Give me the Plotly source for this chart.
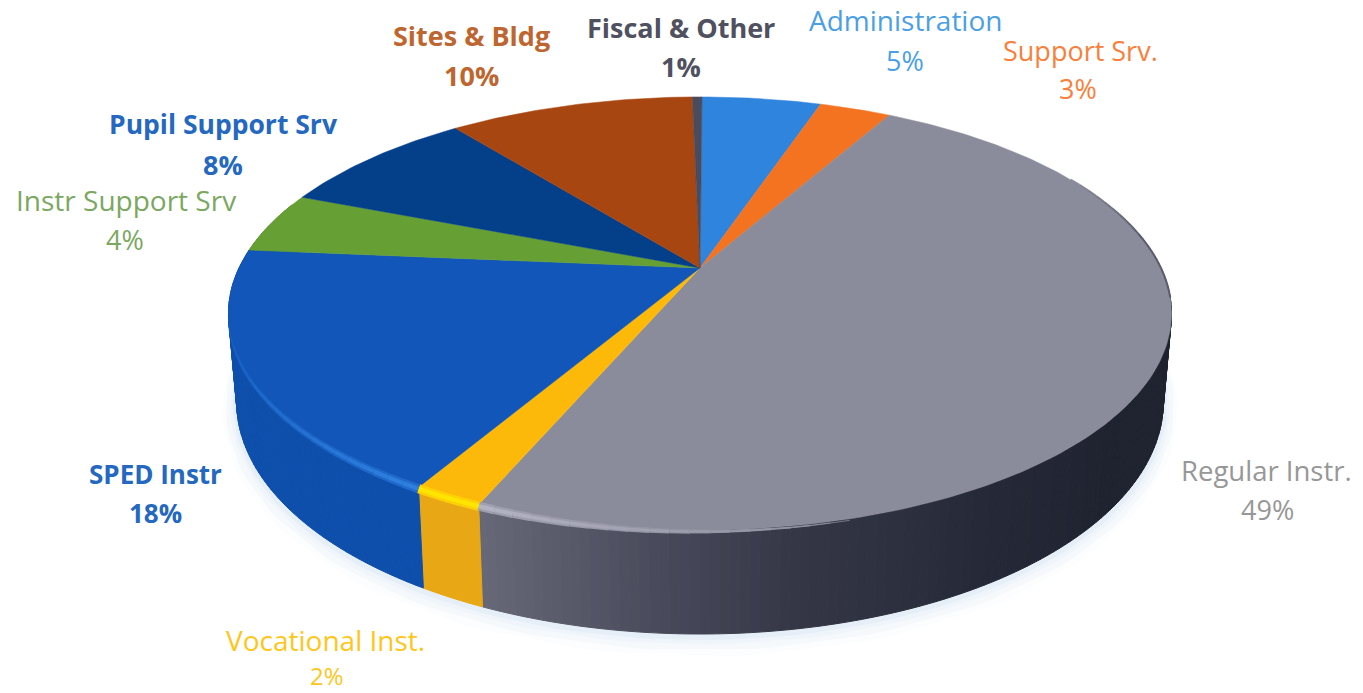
import numpy as np
import plotly.graph_objects as go

# ---- data (clockwise from 12 o'clock) ----
categories = ["Administration", "Support Srv.", "Regular Instr.", "Vocational Inst.",
              "SPED Instr", "Instr Support Srv", "Pupil Support Srv", "Sites & Bldg", "Fiscal & Other"]
shares = [5.0, 3.0, 48.3, 2.0, 18.1, 4.6, 8.4, 10.3, 0.4]
pct_labels = ["5%", "3%", "49%", "2%", "18%", "4%", "8%", "10%", "1%"]

# ---- styles ----
top_colors = ["#2f84de", "#f47320", "#8b8c9b", "#fdb90a", "#1156b8", "#66a035", "#043f8a", "#a84612", "#4a4b5c"]
wall_colors = ["#2470c0", "#d8601a", "#3a3b4a", "#e8a815", "#0e4fac", "#558a2c", "#03336f", "#8c3a0e", "#3a3b4a"]
text_colors = ["#4a9fe6", "#f8803a", "#979797", "#ffc61a", "#2468bf", "#7aa860", "#2468bf", "#bd6630", "#4f5060"]
bold = [False, False, False, False, True, False, True, True, True]
name_size = [28, 27, 27.5, 28, 26, 28, 26.5, 27, 27]
pct_size = [27, 27, 27, 24, 26, 27, 27, 27, 27]
name_pos = [(905, 20), (1080, 50), (1266, 470), (325, 640), (155, 474), (126, 200), (223, 124), (471, 35), (681, 27)]
pct_pos = [(905, 60), (1078, 88), (1267, 509), (327, 675), (155, 513), (125, 239), (223, 164), (471, 75), (681, 66)]

# projection of the round pie onto the page (perspective disc)
CX, CY, A, B, K = 700, 268, 461, 207, 0.21
CX2, CY2, A2, B2 = 700, 353, 453, 222
START = 0.3

# shading stops for the Regular wall (angle, colour)
grey_stops = [(130, "#1f2330"), (150, "#262a38"), (170, "#343646"), (185, "#4a4b5c"), (203, "#686978")]


def hex2rgb(h):
    return np.array([int(h[i:i + 2], 16) for i in (1, 3, 5)], float)


def mix(c1, c2, t):
    c = hex2rgb(c1) * (1 - t) + hex2rgb(c2) * t
    return "rgb(%d,%d,%d)" % tuple(np.round(c))


def stops_color(stops, a):
    if a <= stops[0][0]:
        return stops[0][1]
    for (a0, c0), (a1, c1) in zip(stops[:-1], stops[1:]):
        if a <= a1:
            return mix(c0, c1, (a - a0) / (a1 - a0))
    return stops[-1][1]


def top_xy(theta):
    t = np.radians(theta)
    u, v = np.sin(t), -np.cos(t)
    d = 1 - K * v
    return CX + A * u / d, CY + B * v / d


def bottom_xy(theta):
    t = np.radians(theta)
    u, v = np.sin(t), -np.cos(t)
    d = 1 - K * v
    return CX2 + A2 * u / d, CY2 + B2 * v / d


fig = go.Figure()
total = sum(shares)
edges = START + np.concatenate([[0], np.cumsum(shares)]) * 360 / total

# soft shadow under the disc
arc = np.arange(75, 285.5, 2)
sx, sy = bottom_xy(arc)
for w, col in ((30, "#fbfdfe"), (22, "#f6f9fc"), (14, "#eff5fa"), (8, "#e6eff7")):
    fig.add_trace(go.Scatter(x=sx, y=sy + w / 4, mode="lines", line=dict(color=col, width=w),
                             hoverinfo="skip", showlegend=False))

# side wall, in narrow strips so that it can be shaded
for i, name in enumerate(categories):
    a0, a1 = edges[i], edges[i + 1]
    ths = np.arange(a0, a1 + 1, 1.0)
    ths[-1] = a1
    for t0, t1 in zip(ths[:-1], ths[1:]):
        m = (t0 + t1) / 2
        if -np.cos(np.radians(m)) < -0.32:
            continue
        col = stops_color(grey_stops, m) if i == 2 else wall_colors[i]
        tt = np.array([t0, t1])
        x1, y1 = top_xy(tt)
        x2, y2 = bottom_xy(tt)
        fig.add_trace(go.Scatter(x=[x1[0], x1[1], x2[1], x2[0], x1[0]],
                                 y=[y1[0], y1[1], y2[1], y2[0], y1[0]],
                                 mode="lines", fill="toself", fillcolor=col,
                                 line=dict(color=col, width=1),
                                 hoverinfo="skip", showlegend=False))

# top face
for i, name in enumerate(categories):
    a0, a1 = edges[i], edges[i + 1]
    ths = np.linspace(a0, a1, max(3, int(a1 - a0) + 2))
    x, y = top_xy(ths)
    fig.add_trace(go.Scatter(x=np.r_[CX, x, CX], y=np.r_[CY, y, CY], mode="lines", fill="toself",
                             fillcolor=top_colors[i], line=dict(color=top_colors[i], width=0.5),
                             name=name, text=f"{name} {pct_labels[i]}", hoverinfo="text", showlegend=False))

# dark blurred edge at the far right of the top face, fading in
ths = np.arange(62, 100, 2.0)
for t0, t1 in zip(ths[:-1], ths[1:]):
    f = min(1.0, (t0 - 62) / 18)
    x, y = top_xy(np.array([t0, t1]))
    fig.add_trace(go.Scatter(x=x, y=y, mode="lines", line=dict(color=mix("#8b8c9b", "#5a5b6c", f), width=2),
                             hoverinfo="skip", showlegend=False))

# bright rim along the front edge: a faint wide pass, then a narrow bright one
rims = {2: ("#b4b4c4", 0.0, 1.0), 3: ("#ffe600", 1.0, 1.0), 4: ("#2f80e0", 1.0, 0.0)}
for wide in (True, False):
    for i, (hi, s0, s1) in rims.items():
        a0, a1 = edges[i], edges[i + 1]
        if i == 2:
            a0 = 165
        if i == 4:
            a1 = 262
        ths = np.arange(a0, a1 + 2, 2.0)
        ths[-1] = a1
        for t0, t1 in zip(ths[:-1], ths[1:]):
            f = s0 + (s1 - s0) * ((t0 + t1) / 2 - a0) / (a1 - a0)
            col = mix(top_colors[i], hi, f * (0.5 if wide else 1.0))
            w = (9 if wide else 4) * f + 0.3
            x, y = top_xy(np.array([t0, t1]))
            fig.add_trace(go.Scatter(x=x, y=y + 1.5, mode="lines", line=dict(color=col, width=w),
                                     hoverinfo="skip", showlegend=False))

# labels
FONT = "Open Sans"
for i, name in enumerate(categories):
    weight = 700 if bold[i] else 500
    fig.add_annotation(x=name_pos[i][0], y=name_pos[i][1], text=name, showarrow=False,
                       font=dict(family=FONT, size=name_size[i], color=text_colors[i], weight=weight))
    fig.add_annotation(x=pct_pos[i][0], y=pct_pos[i][1], text=pct_labels[i], showarrow=False,
                       font=dict(family=FONT, size=pct_size[i], color=text_colors[i], weight=weight))

fig.update_layout(width=1363, height=693, margin=dict(l=0, r=0, t=0, b=0),
                  paper_bgcolor="white", plot_bgcolor="white", showlegend=False,
                  xaxis=dict(range=[0, 1363], visible=False, fixedrange=True),
                  yaxis=dict(range=[693, 0], visible=False, fixedrange=True))
fig.write_html("out.html", config={"displayModeBar": False},
               post_script="document.body.style.margin='0';")
